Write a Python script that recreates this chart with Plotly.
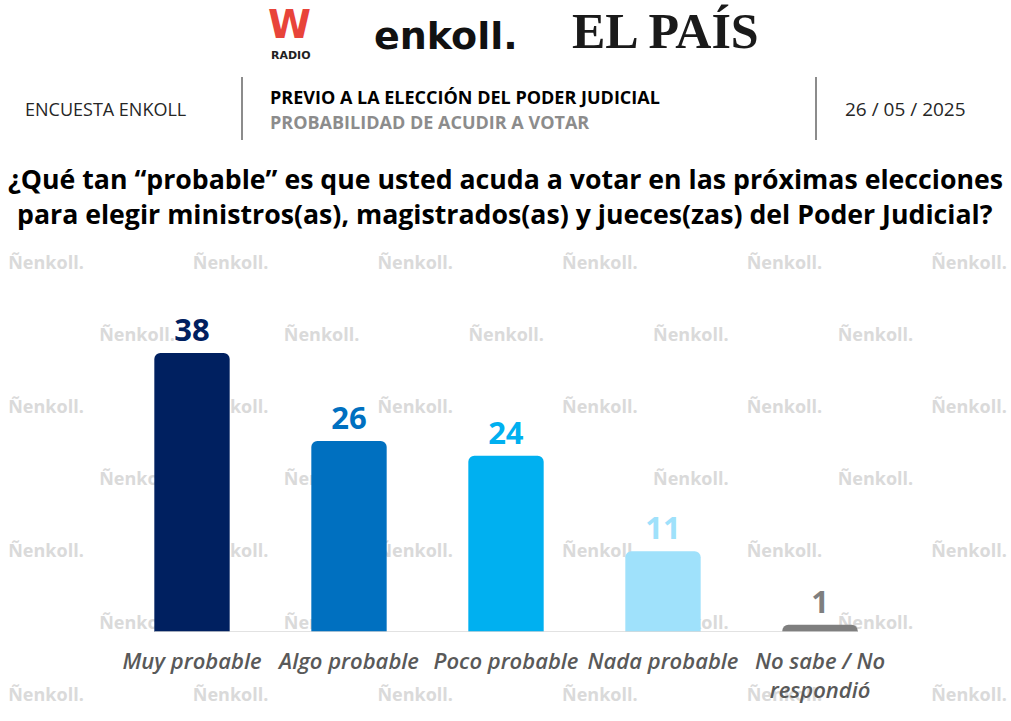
import plotly.graph_objects as go

W, H = 1011, 721

categories = ["Muy probable", "Algo probable", "Poco probable", "Nada probable", "No sabe / No<br>respondió"]
values = [38, 26, 24, 11, 1]
bar_colors = ["#002060", "#0070C0", "#00B0F0", "#9FE1FB", "#7F7F7F"]

title_lines = ["¿Qué tan “probable” es que usted acuda a votar en las próximas elecciones",
               "para elegir ministros(as), magistrados(as) y jueces(zas) del Poder Judicial?"]

FONT = "Open Sans"

def px(x):
    return x / W

def py(y):
    return 1 - y / H

fig = go.Figure()

# watermark grid on full-page axes (drawn first, behind bars)
wm_x, wm_y = [], []
row_ys = [264, 336, 408, 480, 552, 624, 696]
for i, ry in enumerate(row_ys):
    start = 0 if i % 2 == 0 else 91
    x = start
    while x < W:
        wm_x.append(x + 46)
        wm_y.append(ry)
        x += 184.6
fig.add_trace(go.Scatter(
    x=wm_x, y=wm_y, mode="text", text=["Ñenkoll."] * len(wm_x),
    textfont=dict(family=FONT, size=18, color="#DADADA", weight="bold"),
    hoverinfo="skip", showlegend=False, xaxis="x", yaxis="y", cliponaxis=False,
))

# bars
fig.add_trace(go.Bar(
    x=categories, y=values, marker=dict(color=bar_colors, line=dict(width=0)),
    text=[str(v) for v in values], textposition="outside",
    textfont=dict(family=FONT, size=31, color=bar_colors, weight="bold"),
    cliponaxis=False, showlegend=False, xaxis="x2", yaxis="y2", hoverinfo="skip",
))

plot_l, plot_r, plot_t, plot_b = 113.5, 898.5, 260, 632
ppu = (632 - 353) / 38.0
ymax = (plot_b - plot_t) / ppu

fig.update_layout(
    width=W, height=H, margin=dict(l=0, r=0, t=0, b=0),
    paper_bgcolor="white", plot_bgcolor="rgba(0,0,0,0)",
    bargap=0.52, barcornerradius=6,
    xaxis=dict(domain=[0, 1], range=[0, W], visible=False, fixedrange=True),
    yaxis=dict(domain=[0, 1], range=[H, 0], visible=False, fixedrange=True),
    xaxis2=dict(domain=[px(plot_l), px(plot_r)], anchor="y2", range=[-0.5, 4.5],
                showgrid=False, showline=False, zeroline=False, ticks="",
                ticklabelstandoff=14,
                tickfont=dict(family=FONT, size=22, color="#595959", style="italic", weight=600)),
    yaxis2=dict(domain=[py(plot_b), py(plot_t)], anchor="x2", range=[0, ymax],
                visible=False, showgrid=False, zeroline=False),
)

# baseline
fig.add_shape(type="line", xref="x2", yref="y2", x0=-0.24, x1=4.24, y0=0, y1=0,
              line=dict(color="#D9D9D9", width=1.5))

# header separators
for xx in (242, 816):
    fig.add_shape(type="line", xref="paper", yref="paper", x0=px(xx), x1=px(xx),
                  y0=py(77), y1=py(140), line=dict(color="#8C8C8C", width=2))

ann = []
def add(text, x, y, size, color="#000000", weight="normal", family=FONT, xanchor="left",
        style="normal", yanchor="middle"):
    ann.append(dict(text=text, x=px(x), y=py(y), xref="paper", yref="paper", showarrow=False,
                    xanchor=xanchor, yanchor=yanchor, borderpad=0,
                    font=dict(family=family, size=size, color=color, weight=weight, style=style)))

# logos
add("W", 289, 1, 39, "#E8443A", "bold", "DejaVu Sans", "center", yanchor="top")
add("RADIO", 291, 56, 11, "#222222", "bold", "DejaVu Sans", "center")
add("enkoll.", 446, 36, 38, "#111111", "bold", "DejaVu Sans", "center")
add("EL PAÍS", 665, 31, 50, "#1a1a1a", "bold", "Liberation Serif", "center")

# header texts
add("ENCUESTA ENKOLL", 24, 109, 18, "#262626")
add("PREVIO A LA ELECCIÓN DEL PODER JUDICIAL", 269, 97, 18, "#000000", "bold")
add("PROBABILIDAD DE ACUDIR A VOTAR", 269, 122, 18, "#8C8C8C", "bold")
add("26 / 05 / 2025", 844, 109, 19, "#262626")

# title
add(title_lines[0], 505, 178, 26.7, "#000000", "bold", FONT, "center")
add(title_lines[1], 505, 214, 26.7, "#000000", "bold", FONT, "center")

fig.update_layout(annotations=ann)
fig.write_html("out.html")
